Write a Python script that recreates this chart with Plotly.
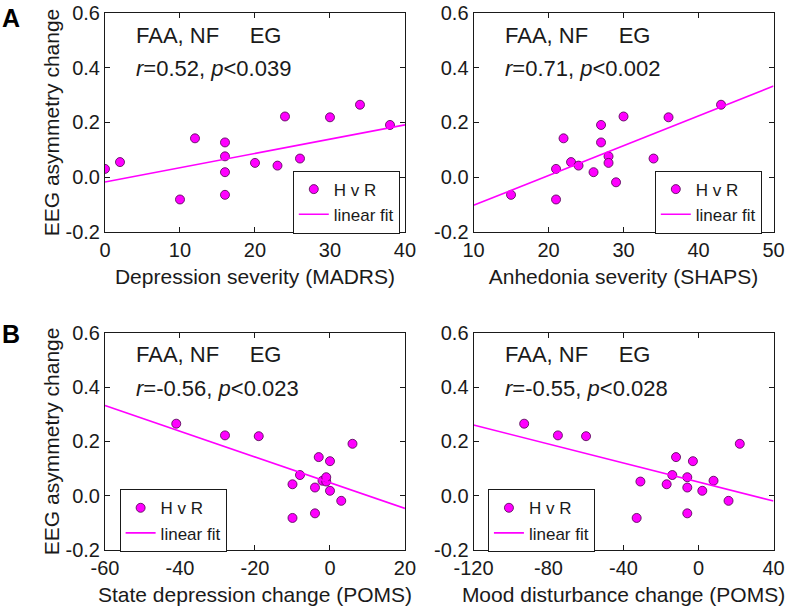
import numpy as np
import plotly.graph_objects as go

# values
y_change = [0.030, 0.055, -0.082, 0.142, 0.127, 0.076, 0.018, -0.065,
            0.052, 0.042, 0.222, 0.068, 0.219, 0.265, 0.191, -0.019]

madrs = [0, 2, 10, 12, 16, 16, 16, 16, 20, 23, 24, 26, 30, 34, 38, 28]
shaps = [21, 23, 21, 22, 27, 28, 26, 15, 28, 24, 30, 34, 36, 43, 27, 29]
state_dep = [-4, -2, -10, -3, 0, -8, 0, -4, -1, -10, -28, -1, -19, -41, 6, 3]
mood_dist = [-6, 8, -33, -12, -3, -14, 2, -6, -31, -17, -75, -6, -60, -93, 22, 16]

x_titles = ["Depression severity (MADRS)", "Anhedonia severity (SHAPS)",
            "State depression change (POMS)", "Mood disturbance change (POMS)"]
x_ranges = [[0, 40], [10, 50], [-60, 20], [-120, 40]]
x_ticks = [[0, 10, 20, 30, 40], [10, 20, 30, 40, 50],
           [-60, -40, -20, 0, 20], [-120, -80, -40, 0, 40]]
x_ticktext = [["0", "10", "20", "30", "40"], ["10", "20", "30", "40", "50"],
              ["-60", "-40", "-20", "0", "20"], ["-120", "-80", "-40", "0", "40"]]
y_ticks = [-0.2, 0.0, 0.2, 0.4, 0.6]
y_ticktext = ["-0.2", "0.0", "0.2", "0.4", "0.6"]
stats = [("0.52", "0.039"), ("0.71", "0.002"), ("-0.56", "0.023"), ("-0.55", "0.028")]

xs = [madrs, shaps, state_dep, mood_dist]

FONT = "Arial, Liberation Sans, sans-serif"
TXT = "#1a1a1a"
MAG = "#ff00ff"

# panel boxes in paper coords
x_dom = [[0.1334, 0.5146], [0.6017, 0.9829], [0.1334, 0.5146], [0.6017, 0.9829]]
y_dom = [[0.6183, 0.9781], [0.6183, 0.9781], [0.0939, 0.4519], [0.0939, 0.4519]]
leg_pos = [(0.508, 0.719), (0.968, 0.719), (0.152, 0.194), (0.620, 0.194)]

fig = go.Figure()
layout = dict(
    width=787, height=607, margin=dict(l=0, r=0, t=0, b=0, autoexpand=False),
    paper_bgcolor="white", plot_bgcolor="white",
    font=dict(family=FONT, color=TXT, size=20),
    annotations=[],
)

for i in range(4):
    n = "" if i == 0 else str(i + 1)
    leg = "legend" + n
    x = np.array(xs[i], dtype=float)
    y = np.array(y_change)
    slope, icpt = np.polyfit(x, y, 1)
    xf = np.array(x_ranges[i], dtype=float)

    fig.add_trace(go.Scatter(
        x=x, y=y, mode="markers", name="H v R", legend=leg,
        xaxis="x" + n, yaxis="y" + n,
        marker=dict(size=9, color=MAG, line=dict(color="#4a004a", width=0.8)),
    ))
    fig.add_trace(go.Scatter(
        x=xf, y=slope * xf + icpt, mode="lines", name="linear fit", legend=leg,
        xaxis="x" + n, yaxis="y" + n,
        line=dict(color=MAG, width=1.6),
    ))

    layout["xaxis" + n] = dict(
        domain=x_dom[i], anchor="y" + n, range=x_ranges[i], automargin=False,
        tickvals=x_ticks[i], ticktext=x_ticktext[i],
        ticks="inside", ticklen=5, tickcolor=TXT, showgrid=False, zeroline=False,
        showline=True, linecolor=TXT, linewidth=1, mirror="ticks",
        tickfont=dict(size=20), title=dict(text=x_titles[i], font=dict(size=21), standoff=9),
    )
    layout["yaxis" + n] = dict(
        domain=y_dom[i], anchor="x" + n, range=[-0.2, 0.6], automargin=False,
        tickvals=y_ticks, ticktext=y_ticktext,
        ticks="inside", ticklen=5, tickcolor=TXT, showgrid=False, zeroline=False,
        showline=True, linecolor=TXT, linewidth=1, mirror="ticks",
        tickfont=dict(size=20),
        title=dict(text="EEG asymmetry change" if i in (0, 2) else "",
                   font=dict(size=21), standoff=0),
    )
    layout[leg] = dict(
        x=leg_pos[i][0], y=leg_pos[i][1], xanchor="right" if i < 2 else "left", yanchor="top",
        bgcolor="white", bordercolor=TXT, borderwidth=1,
        font=dict(size=17), tracegroupgap=0, itemwidth=30,
    )

    gap = "\u00a0" * 5
    layout["annotations"].append(dict(
        xref="x" + n + " domain", yref="y" + n + " domain", x=0.098, y=0.90,
        xanchor="left", yanchor="middle", showarrow=False,
        text="FAA, NF" + gap + "EG", font=dict(size=22),
    ))
    layout["annotations"].append(dict(
        xref="x" + n + " domain", yref="y" + n + " domain", x=0.098, y=0.745,
        xanchor="left", yanchor="middle", showarrow=False,
        text="<i>r</i>=" + stats[i][0] + ", <i>p</i>&lt;" + stats[i][1], font=dict(size=22),
    ))

for lab, yy in [("A", 0.997), ("B", 0.476)]:
    layout["annotations"].append(dict(
        xref="paper", yref="paper", x=0.0, y=yy, xanchor="left", yanchor="top",
        showarrow=False, text="<b>" + lab + "</b>", font=dict(size=25, color="black"),
    ))

layout["showlegend"] = True
fig.update_layout(**layout)

fig.write_html("out.html", config={"displayModeBar": False},
               post_script="document.body.style.margin='0';")
